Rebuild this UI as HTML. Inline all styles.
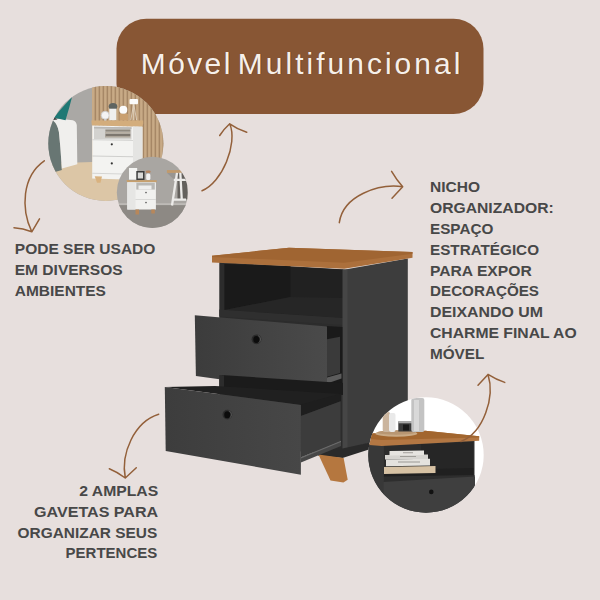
<!DOCTYPE html>
<html><head><meta charset="utf-8">
<style>
html,body{margin:0;padding:0;background:#e7dfdd;width:600px;height:600px;overflow:hidden;}
svg{display:block;}
.t{font-family:"Liberation Sans",sans-serif;font-weight:700;font-size:15.4px;fill:#484848;}
.ttl{font-family:"Liberation Sans",sans-serif;font-weight:400;font-size:30px;fill:#f6f0ea;}
.ar{fill:none;stroke:#93603a;stroke-width:1.5;stroke-linecap:round;stroke-linejoin:round;}
</style></head>
<body>
<svg width="600" height="600" viewBox="0 0 600 600">
<defs>
  <clipPath id="c1"><circle cx="105.8" cy="143.5" r="57.5"/></clipPath>
  <clipPath id="c2"><circle cx="152.4" cy="192.4" r="35.6"/></clipPath>
  <clipPath id="c3"><circle cx="426" cy="455" r="57.7"/></clipPath>
  <linearGradient id="gd1" gradientUnits="userSpaceOnUse" x1="195" y1="0" x2="327" y2="0"><stop offset="0" stop-color="#3c3c3c"/><stop offset="1" stop-color="#4a4a4a"/></linearGradient>
  <linearGradient id="gd2" gradientUnits="userSpaceOnUse" x1="165" y1="0" x2="301" y2="0"><stop offset="0" stop-color="#3d3d3d"/><stop offset="1" stop-color="#474747"/></linearGradient>
</defs>
<rect width="600" height="600" fill="#e7dfdd"/>

<!-- Banner -->
<rect x="116.5" y="18.7" width="367" height="95.4" rx="30" fill="#885634"/>
<g opacity="1"><text class="ttl" style="fill:#3d2010" opacity="0.45" transform="translate(0.8,0.8)" x="140.8" y="73.6" textLength="89.5" lengthAdjust="spacing">Móvel</text>
<text class="ttl" style="fill:#3d2010" opacity="0.45" transform="translate(0.8,0.8)" x="237.8" y="73.6" textLength="222.5" lengthAdjust="spacing">Multifuncional</text></g>
<text class="ttl" x="140.8" y="73.6" textLength="89.5" lengthAdjust="spacing">Móvel</text>
<text class="ttl" x="237.8" y="73.6" textLength="222.5" lengthAdjust="spacing">Multifuncional</text>

<!-- Large circle photo -->
<g clip-path="url(#c1)">
  <rect x="45" y="82" width="125" height="125" fill="#aaa8a5"/>
  <!-- slat wall -->
  <rect x="92" y="82" width="75" height="82" fill="#c8aa86"/>
  <rect x="94.6" y="82" width="1.5" height="80" fill="#a68766"/><rect x="98.6" y="82" width="1.5" height="80" fill="#a68766"/><rect x="102.6" y="82" width="1.5" height="80" fill="#a68766"/><rect x="106.6" y="82" width="1.5" height="80" fill="#a68766"/><rect x="110.6" y="82" width="1.5" height="80" fill="#a68766"/><rect x="114.6" y="82" width="1.5" height="80" fill="#a68766"/><rect x="118.6" y="82" width="1.5" height="80" fill="#a68766"/><rect x="122.6" y="82" width="1.5" height="80" fill="#a68766"/><rect x="126.6" y="82" width="1.5" height="80" fill="#a68766"/><rect x="130.6" y="82" width="1.5" height="80" fill="#a68766"/><rect x="134.6" y="82" width="1.5" height="80" fill="#a68766"/><rect x="138.6" y="82" width="1.5" height="80" fill="#a68766"/><rect x="142.6" y="82" width="1.5" height="80" fill="#a68766"/><rect x="146.6" y="82" width="1.5" height="80" fill="#a68766"/><rect x="150.6" y="82" width="1.5" height="80" fill="#a68766"/><rect x="154.6" y="82" width="1.5" height="80" fill="#a68766"/><rect x="158.6" y="82" width="1.5" height="80" fill="#a68766"/><rect x="162.6" y="82" width="1.5" height="80" fill="#a68766"/>
  
  <!-- floor -->
  <polygon points="45,163.5 92,162 170,160 170,207 45,207" fill="#dcc6a6"/>
  <!-- bed side textured -->
  <path d="M45,118 L53.1,120.4 Q57.5,124 58.9,131.9 L60.4,148 L61.9,170 L45,175 Z" fill="#687673"/>
  <!-- bed white -->
  <path d="M53.1,120.4 Q54,118.8 59.7,118.7 L72.9,120.2 Q76.3,121.5 76.8,125 L77.3,164.2 L62,168.6 L61.9,170 L60.4,148 L58.9,131.9 Q57.5,124 53.1,120.4 Z" fill="#f0efed"/>
  <!-- teal pillow -->
  <path d="M53.8,118 L59.7,110.6 L72.1,96.7 L69.2,107.7 L65.5,120.2 L58.9,118.7 Z" fill="#1f7874"/>
  <polygon points="52,116 54,117.3 57.5,119.5 53,120" fill="#3a3f3e"/>
  <!-- nightstand -->
  <polygon points="91.3,120.6 143.2,120.6 143.2,123.7 142,126.8 91.9,125.6" fill="#d3ad7c"/>
  <polygon points="92.2,125.6 142.4,126.8 142.4,180 92.2,178.6" fill="#f3f3f1"/>
  <polygon points="133,126.5 142.4,126.8 142.4,180 133,179.5" fill="#e4e4e2"/>
  <polygon points="94,126.8 131.5,127.2 131.5,139.5 94,139.2" fill="#d3d2cf"/>
  <polygon points="94,126.8 131.5,127.2 131.5,129 94,128.6" fill="#b9b8b5"/>
  <rect x="105.4" y="129.5" width="25" height="2.2" fill="#8f897f"/>
  <rect x="105" y="131.9" width="25.5" height="1.8" fill="#b8b0a4"/>
  <rect x="105.4" y="133.8" width="25" height="2.2" fill="#7d776f"/>
  <rect x="105" y="136.1" width="25.5" height="1.4" fill="#a89f93"/>
  <polygon points="92.2,139.3 133,140 133,141 92.2,140.3" fill="#d6d6d4"/>
  <polygon points="92.2,155.6 133,156.3 133,157.2 92.2,156.5" fill="#cfcfcd"/>
  <polygon points="92.2,172.8 133,173.8 133,174.8 92.2,173.8" fill="#d5d5d3"/>
  <circle cx="111.8" cy="144.3" r="1.1" fill="#333"/>
  <circle cx="111.8" cy="163.4" r="1.1" fill="#333"/>
  <polygon points="94.7,176.3 102,176.6 100.5,182.7 97,182.7" fill="#d9b27f"/>
  <!-- items on top -->
  <circle cx="105.2" cy="115.3" r="4" fill="#f4f4f4" stroke="#c8c8c8" stroke-width="0.8"/>
  <rect x="104.3" y="118.8" width="2" height="1.8" fill="#ccc"/>
  <ellipse cx="113" cy="106.5" rx="4.3" ry="3.6" fill="#5f6461"/>
  <rect x="109.3" y="108.7" width="7" height="11.5" fill="#efefef"/>
  <rect x="119.5" y="114" width="8.5" height="6.3" fill="#caa070"/>
  <circle cx="123.3" cy="109.8" r="4" fill="#fbfbfb"/>
  <rect x="129.5" y="99" width="8.5" height="5.2" rx="1" fill="#fbfbfb"/>
  <path d="M133.7,104 L130.8,120 M133.7,104 L136.6,120 M133.7,104 L133.7,120" stroke="#e2d6c5" stroke-width="0.8"/>
</g>
<!-- small circle photo -->
<g clip-path="url(#c2)">
  <rect x="112" y="152" width="80" height="80" fill="#a9a6a2"/>
  <rect x="112" y="205" width="80" height="30" fill="#8d8984"/>
  <rect x="112" y="203.2" width="80" height="1.9" fill="#bdbab6"/>
  <!-- desk -->
  <polygon points="166.9,172.8 176,172.8 176,181.5" fill="#999692"/>
  <rect x="177.5" y="173.3" width="10" height="26" fill="#64615d"/>
  <rect x="166.9" y="170.1" width="15" height="2.8" fill="#c09a6c"/>
  <path d="M177,172.8 L172,205.5 M180.3,172.8 L181.8,200.5 M173.8,179.8 L187,179.8 M173.2,199.6 L186,199.6" stroke="#ecebe9" stroke-width="2.3" fill="none"/>
  <!-- nightstand -->
  <polygon points="126.5,180 156.8,180.2 156.6,182.3 127,182.3" fill="#c7a06d"/>
  <rect x="127.3" y="182.3" width="28.6" height="27.2" fill="#f1f1ef"/>
  <rect x="127.3" y="182.3" width="8.2" height="27.2" fill="#e6e6e4"/>
  <rect x="136.3" y="182.8" width="18.5" height="6.8" fill="#b9b8b5"/>
  <rect x="138.5" y="185.5" width="13" height="4" fill="#efefee"/>
  <rect x="135.5" y="199" width="20.4" height="0.7" fill="#cfcfcd"/>
  <circle cx="146" cy="192.6" r="0.8" fill="#555"/>
  <circle cx="146" cy="202.6" r="0.8" fill="#555"/>
  <rect x="135.5" y="209.5" width="3.5" height="5" fill="#b8875a"/>
  <rect x="151.3" y="209.5" width="3.5" height="4" fill="#b8875a"/>
  <!-- items -->
  <rect x="128.7" y="167.7" width="9" height="12.3" fill="#f4f4f2" stroke="#9a9894" stroke-width="0.6"/>
  <rect x="136.3" y="171" width="8.2" height="9" fill="#3c3c3c"/>
  <rect x="137.8" y="172.5" width="5.2" height="6" fill="#d9d9d7"/>
  <rect x="146.2" y="173.5" width="4.2" height="6.5" rx="1.5" fill="#f2f2f2"/>
  <ellipse cx="148.2" cy="171.8" rx="2.6" ry="1.3" fill="#b58560"/>
</g>

<!-- Cabinet -->
<g id="cab">
  <!-- front frame -->
  <polygon points="219.3,262 345,269.5 345,455 219.3,445" fill="#2c2c2c"/>
  <!-- niche back -->
  <polygon points="224.5,264 343,269.5 343,318 224.5,311" fill="#212121"/>
  <!-- niche left inner wall -->
  <polygon points="224.5,264 290.5,266 290.5,297 224.5,310" fill="#1a1a1a"/>
  <!-- niche floor -->
  <polygon points="224.5,310 290.5,297 343,298 343,318" fill="#262626"/>
  <!-- shelf front edge -->
  <polygon points="219.3,309.5 343,318 343,325 219.3,316.5" fill="#2f2f2f"/>
  <!-- side panel -->
  <polygon points="345,269.5 407.8,258.5 407.8,434 345,449" fill="#3d3d3d"/>
  <polygon points="342.5,269.5 347.5,269.5 347.5,449 342.5,449.5" fill="#464646"/>
  <!-- base strip -->
  <polygon points="318,450 342.5,448.5 372,442 372,448.5 342.5,458 318,455.5" fill="#2a2a2a"/>
  <!-- leg -->
  <polygon points="318.5,454.5 343.6,457.9 347.7,479.8 343.4,482.4 330.5,480.4 321.8,461.7" fill="#b5773f"/>
  <!-- wood top -->
  <polygon points="212,255.7 289,247.7 412.5,252 412.5,257.8 344.2,268.8 212,262.4" fill="#ac703c"/>
  <polygon points="212,255.7 289,247.7 412.5,252 412.5,253.8 344.2,262.8 212,257" fill="#a06532"/>
</g>

<!-- upper drawer -->
<polygon points="326.5,326 342.5,327 342.5,384 326.5,392" fill="#1a1a1a"/>
<polygon points="327,339.3 340,336.7 340,373 327,376.8" fill="#3a3a3a"/>
<polygon points="327,377.5 341.5,373.5 341.5,378.5 327,383.5" fill="#5c5c5c"/>
<polygon points="194.8,315.3 327,326.5 327,394 195.9,376" fill="url(#gd1)"/>
<!-- between drawers frame -->
<!-- lower drawer interior -->
<polygon points="221.5,375 343,383 343,395 215,386.5 221.5,386.5" fill="#1b1b1b"/>
<polygon points="219.3,375 224,375.3 224,387 219.3,387" fill="#2c2c2c"/>
<polygon points="165,387 215,386 341,394 341,399 301,405" fill="#202020"/>
<polygon points="300.9,404.5 341,393.5 341,401.3 300.9,416" fill="#1e1e1e"/>
<polygon points="300.9,416 340.5,401.3 340.5,441 300.9,457.5" fill="#3c3c3c"/>
<polygon points="300.9,457.5 341,441 341,446 300.9,462.5" fill="#474747"/>
<polygon points="300.9,457.3 341,440.8 341,442 300.9,458.5" fill="#6a6a6a"/>
<!-- lower drawer front -->
<polygon points="164.8,387 300.9,405 300.9,474.7 165.7,451" fill="url(#gd2)"/>
<!-- handles -->
<circle cx="256.5" cy="339.3" r="4.9" fill="#2a2a2a"/>
<path d="M257.97,335.54 A4,4 0 0 1 258.60,342.76" fill="none" stroke="#666" stroke-width="0.7"/>
<ellipse cx="256.3" cy="339.4" rx="3" ry="3.5" fill="#0c0c0c"/>
<circle cx="227.4" cy="414.6" r="4.9" fill="#2c2c2c"/>
<path d="M228.87,410.84 A4,4 0 0 1 229.50,418.06" fill="none" stroke="#666" stroke-width="0.7"/>
<ellipse cx="227.2" cy="414.7" rx="3" ry="3.5" fill="#0c0c0c"/>

<!-- bottom right circle -->
<g clip-path="url(#c3)">
  <rect x="366" y="395" width="122" height="125" fill="#ffffff"/>
  <!-- body -->
  <polygon points="366,444 474.5,440.5 474.5,520 366,520" fill="#353535"/>
  <!-- niche -->
  <polygon points="383.7,445.5 421,444 421,476 383.7,476.5" fill="#2c2c2c"/>
  <polygon points="421,444 473.5,441.5 473.5,475 421,476" fill="#262626"/>
  <polygon points="383.7,470 473.5,468 473.5,476 383.7,477" fill="#202020"/>
  <!-- books -->
  <polygon points="384,467 435.5,466 435.5,473 384,474" fill="#d7c2a4"/>
  <polygon points="386,459.5 430,458.8 430,465.5 386,466.2" fill="#e4e2de"/>
  <polygon points="385,455 428,454.5 428,459 385,459.5" fill="#d6d4d0"/>
  <polygon points="389.5,451 424,450.5 424,455 389.5,455.5" fill="#e6e4e0"/>
  <rect x="398" y="461.5" width="22" height="1" fill="#9a9893"/>
  <rect x="400" y="456" width="16" height="0.9" fill="#9a9893"/>
  <rect x="403" y="452.3" width="10" height="0.9" fill="#9a9893"/>
  <!-- shelf front -->
  <polygon points="383.7,476.5 474.5,475 474.5,481 383.7,482.5" fill="#2e2e2e"/>
  <!-- drawer front -->
  <polygon points="382.7,482 475,476.5 475,520 382.7,520" fill="#3f3f3f"/>
  <circle cx="431.3" cy="491.9" r="2.3" fill="#111"/>
  <!-- left frame -->
  <polygon points="366,444 383.7,445.5 383.7,520 366,520" fill="#383838"/>
  <!-- wood top -->
  <polygon points="371.2,433.5 425.4,430.8 479.2,436.3 479.2,440.8 381.7,446 369.2,445" fill="#b37743"/>
  <polygon points="371.2,433.5 425.4,430.8 479.2,436.3 479.2,437.5 381.7,440 370,439" fill="#a2662f"/>
  <!-- items -->
  <ellipse cx="396.3" cy="433.5" rx="21" ry="3.3" fill="#c9aa86"/>
  <ellipse cx="396.3" cy="432.5" rx="19" ry="2.2" fill="#b89672"/>
  <rect x="382.7" y="412" width="7.5" height="20" rx="2" fill="#cbb59e"/>
  <rect x="389" y="413" width="6.5" height="19" rx="2" fill="#e9e9e9"/>
  <rect x="398.3" y="421.5" width="15.5" height="10" fill="#3b3b3b"/>
  <rect x="398.3" y="421" width="15.5" height="2.3" fill="#a7a7a7"/>
  <rect x="403" y="424.5" width="6" height="6" fill="#1a1a1a"/>
  <rect x="411.3" y="398" width="13" height="34" rx="2" fill="#c3c3c3"/>
  <rect x="414" y="400" width="5" height="31" fill="#d9d9d9"/>
</g>

<!-- arrows -->
<path class="ar" d="M44.3,160.8 C21.8,176.4 20.9,209.0 31.8,231.8 M14,227.8 Q23,228.3 31.8,231.8 L39.5,218.8"/>
<path class="ar" d="M202.0,190.7 C221.9,183.1 238.2,143.4 229.7,123.8 M219.7,135.5 Q224,129 229.7,123.8 Q237,129 246.7,132.2"/>
<path class="ar" d="M339.3,222.7 C343.0,195.5 378.7,183.4 402.7,186.7 M391.6,171.3 Q396,179 402.7,186.7 L392,198.3"/>
<path class="ar" d="M461.0,441.5 C484.0,432.5 495.0,396.5 488.0,374.4 M478,385.3 L488,374.4 Q496,379.5 504.7,382.4"/>

<path class="ar" d="M158.7,414.3 C134.0,422.0 120.6,453.8 125.3,478.0 M109.3,468.7 Q117.5,472 125.3,478 L136.3,467.7"/>

<!-- texts -->
<text class="t" x="14.80" y="254.2" textLength="140.60" lengthAdjust="spacingAndGlyphs">PODE SER USADO</text>
<text class="t" x="14.70" y="275.1" textLength="108.00" lengthAdjust="spacingAndGlyphs">EM DIVERSOS</text>
<text class="t" x="14.80" y="296.1" textLength="91.10" lengthAdjust="spacingAndGlyphs">AMBIENTES</text>

<text class="t" x="430.00" y="191.6" textLength="50.00" lengthAdjust="spacingAndGlyphs">NICHO</text>
<text class="t" x="430.00" y="212.9" textLength="123.70" lengthAdjust="spacingAndGlyphs">ORGANIZADOR:</text>
<text class="t" x="430.00" y="233.6" textLength="63.30" lengthAdjust="spacingAndGlyphs">ESPAÇO</text>
<text class="t" x="430.00" y="254.6" textLength="109.00" lengthAdjust="spacingAndGlyphs">ESTRATÉGICO</text>
<text class="t" x="430.00" y="275.6" textLength="101.70" lengthAdjust="spacingAndGlyphs">PARA EXPOR</text>
<text class="t" x="430.00" y="296.3" textLength="109.00" lengthAdjust="spacingAndGlyphs">DECORAÇÕES</text>
<text class="t" x="430.00" y="317.3" textLength="113.00" lengthAdjust="spacingAndGlyphs">DEIXANDO UM</text>
<text class="t" x="430.00" y="338.3" textLength="146.70" lengthAdjust="spacingAndGlyphs">CHARME FINAL AO</text>
<text class="t" x="430.00" y="358.9" textLength="54.30" lengthAdjust="spacingAndGlyphs">MÓVEL</text>

<text class="t" x="79.30" y="495.9" textLength="78.90" lengthAdjust="spacingAndGlyphs">2 AMPLAS</text>
<text class="t" x="34.00" y="516.9" textLength="124.20" lengthAdjust="spacingAndGlyphs">GAVETAS PARA</text>
<text class="t" x="17.60" y="537.6" textLength="139.60" lengthAdjust="spacingAndGlyphs">ORGANIZAR SEUS</text>
<text class="t" x="65.60" y="558.3" textLength="91.60" lengthAdjust="spacingAndGlyphs">PERTENCES</text>
</svg>
</body></html>
